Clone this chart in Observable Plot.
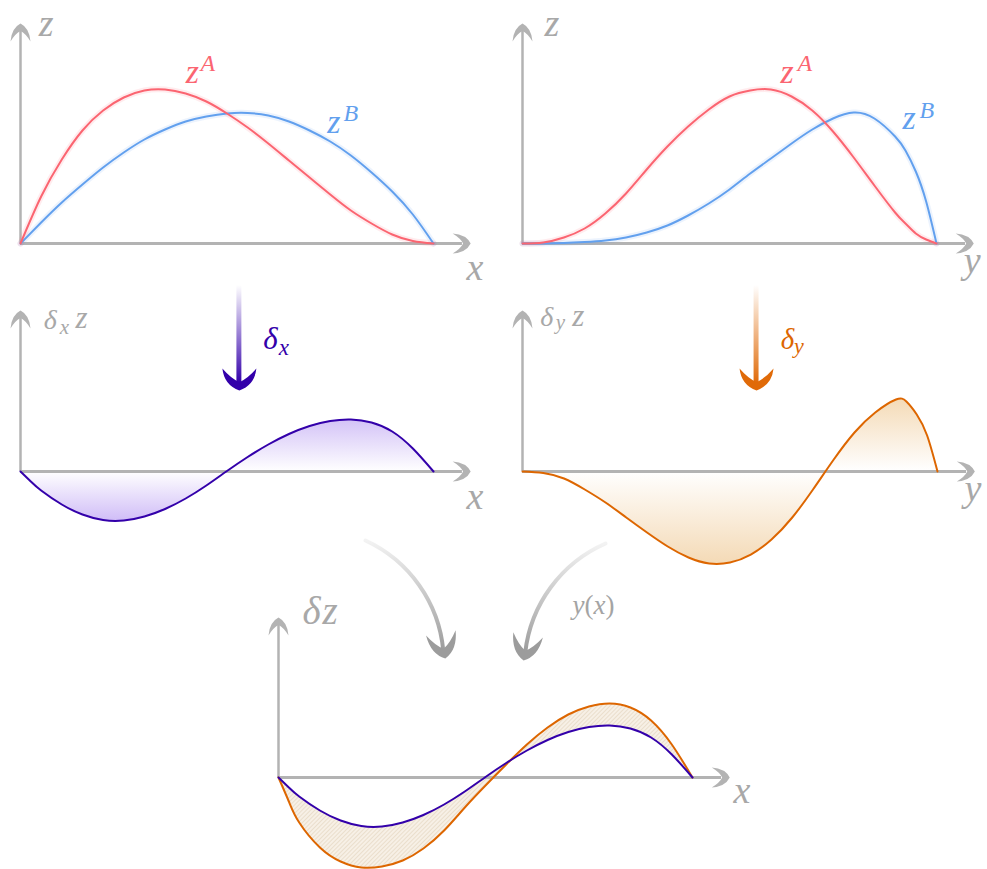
<!DOCTYPE html>
<html><head><meta charset="utf-8">
<script src="https://cdn.jsdelivr.net/npm/d3@7"></script>
<script src="https://cdn.jsdelivr.net/npm/@observablehq/plot@0.6"></script>
<style>
html,body{margin:0;padding:0;background:#fff;overflow:hidden}
#chart{position:relative;width:987px;height:869px;background:#fff}
#chart svg{position:absolute;left:0;top:0}
</style></head><body><div id="chart"></div>
<script>
// ---------- data ----------
// top-left panel: z^A(x), z^B(x)
const tTop = [0,.05,.1,.15,.2,.25,.3,.35,.4,.45,.5,.55,.6,.65,.7,.75,.8,.85,.9,.95,1];
const zA_x = [0,47,84,113,133,146,153,154,150,142,130,116,100,83,66,49,33,20,9,2.5,0];
const zB_x = [0,21,41,59,76,91,104,114,122,127,130,130.5,128,122,113,102,88,71,52,29,0];
// top-right panel: z^A(y), z^B(y)
const tFine = [0,.05,.1,.15,.2,.25,.3,.35,.4,.45,.5,.55,.6,.65,.7,.75,.8,.85,.9,.925,.95,.975,1];
const zA_y = [0,1,6,15,30,50,74,97,117,134,147,153,154,147,133,112,86,58,31,20,10,4,0];
const zB_y = [0,0,0.5,1.5,3,6,11,18,28,40,54,70,85,100,114,125,131,125,107,93,72,42,0];
// middle-right: δ_y z
const dyz = [0,-1.5,-7,-18,-31,-46,-61,-75,-86,-92,-91,-83,-68,-46,-18,12,39,59,72,70,57,36,0];
// middle-left and bottom: δ_x z, and δ_y z composed with y(x)
const tBot = [0,.025,.05,.1,.15,.2,.25,.3,.35,.4,.45,.5,.55,.6,.65,.7,.75,.8,.85,.9,.95,1];
const dxz = [0,-10,-19,-33,-43,-48.5,-49,-45,-37.5,-27,-14,0.5,14.5,27,37.5,45.5,50.5,52,49,40,23,0];
const dyz_x = [0,-24,-45,-70,-84,-90,-89,-83,-71,-53,-30,-8,13,33,50,63,71,74,70,57,33,0];

// ---------- tables ----------
const rowsTL = tTop.map((t,i)=>({t, a: zA_x[i], b: zB_x[i]}));
const rowsTR = tFine.map((t,i)=>({t, a: zA_y[i], b: zB_y[i], d: dyz[i]}));
const rowsB  = tBot.map((t,i)=>({t, dx: dxz[i], dy: dyz_x[i]}));

// ---------- style ----------
const W = 987, H = 869;
const AX = "#b3b3b3", LBL = "#a8a8a8";
const RED = "#fb6571", BLUE = "#62a0ee", PURPLE = "#3300aa", ORANGE = "#dd6600";
const FONT = "Liberation Serif";
const NS = "http://www.w3.org/2000/svg";

function head(L, hw, notch) {
  return {draw(ctx) {
    ctx.moveTo(-L, -hw);
    ctx.quadraticCurveTo(-0.25*L, -0.9*hw, 0, 0);
    ctx.quadraticCurveTo(-0.25*L, 0.9*hw, -L, hw);
    ctx.quadraticCurveTo(-0.55*L, 0.5*hw, -notch*L, 0);
    ctx.quadraticCurveTo(-0.55*L, -0.5*hw, -L, -hw);
    ctx.closePath();
  }};
}
const axisHead = head(18, 10, 0.42);
const bigHead = head(22, 17, 0.38);
const grayHead = head(26, 15, 0.38);

function label(str, x, y, fs, fill, extra = {}) {
  return Plot.text([str], {x: () => x, y: () => y, text: d => d, fontSize: fs, fontFamily: FONT,
    fontStyle: "italic", fill, textAnchor: "start", lineAnchor: "middle", dy: -0.32*fs, ...extra});
}
function axes(yTop) {
  return [
    Plot.ruleY([0], {x1: () => 0, x2: () => 1.07, stroke: AX, strokeWidth: 3}),
    Plot.ruleX([0], {y1: () => 0, y2: () => yTop - 8, stroke: AX, strokeWidth: 2.5}),
    Plot.dot([0], {x: () => 1.09, y: () => 0, symbol: axisHead, r: 6, fill: AX}),
    Plot.dot([0], {x: () => 0, y: () => yTop, symbol: axisHead, r: 6, fill: AX, rotate: -90})
  ];
}
const chart = document.getElementById("chart");
function serifify(svg) {
  svg.querySelectorAll("text, tspan, g").forEach(t => {
    t.setAttribute("font-family", FONT);
    t.style.setProperty("font-family", "'Liberation Serif', 'Times New Roman', serif", "important");
  });
}
function panel(xr, base, marks, defs) {
  const svg = Plot.plot({
    width: W, height: H,
    x: {domain: [0, 1], range: xr, axis: null},
    y: {domain: [0, 100], range: [base, base - 100], axis: null},
    style: {background: "transparent", overflow: "visible"},
    marks
  });
  if (defs) {
    const d = document.createElementNS(NS, "defs");
    d.innerHTML = defs;
    svg.insertBefore(d, svg.firstChild);
  }
  svg.setAttribute("font-family", FONT);
  svg.style.setProperty("font-family", "'Liberation Serif', serif", "important");
  svg.querySelectorAll("text").forEach(t => {
    t.style.setProperty("font-style", "italic", "important");
    if (t.textContent === "y(x)") {
      t.textContent = "";
      for (const s of ["y", "(", "x", ")"]) {
        const sp = document.createElementNS(NS, "tspan");
        sp.textContent = s;
        sp.style.setProperty("font-style", (s === "(" || s === ")") ? "normal" : "italic", "important");
        t.appendChild(sp);
      }
    }
  });
  serifify(svg);
  chart.appendChild(svg);
}
const curve = "natural";

// ---------- top-left ----------
panel([20, 433], 243, [
  ...axes(220),
  Plot.line(rowsTL, {x: "t", y: "b", curve, stroke: BLUE, strokeWidth: 6, strokeOpacity: 0.12}),
  Plot.line(rowsTL, {x: "t", y: "a", curve, stroke: RED, strokeWidth: 6, strokeOpacity: 0.12}),
  Plot.line(rowsTL, {x: "t", y: "b", curve, stroke: BLUE, strokeWidth: 2}),
  Plot.line(rowsTL, {x: "t", y: "a", curve, stroke: RED, strokeWidth: 2}),
  label("z", 0.044, 208, 38, LBL),
  label("x", 1.08, -36, 38, LBL),
  label("z", 0.40, 161, 34, RED), label("A", 0.436, 173, 24, RED),
  label("z", 0.743, 111, 34, BLUE), label("B", 0.782, 123, 24, BLUE)
]);

// ---------- top-right ----------
panel([522, 936], 243, [
  ...axes(220),
  Plot.line(rowsTR, {x: "t", y: "b", curve, stroke: BLUE, strokeWidth: 6, strokeOpacity: 0.12}),
  Plot.line(rowsTR, {x: "t", y: "a", curve, stroke: RED, strokeWidth: 6, strokeOpacity: 0.12}),
  Plot.line(rowsTR, {x: "t", y: "b", curve, stroke: BLUE, strokeWidth: 2}),
  Plot.line(rowsTR, {x: "t", y: "a", curve, stroke: RED, strokeWidth: 2}),
  label("z", 0.053, 208, 38, LBL),
  label("y", 1.066, -29, 38, LBL),
  label("z", 0.623, 161, 34, RED), label("A", 0.664, 173, 24, RED),
  label("z", 0.918, 115, 34, BLUE), label("B", 0.959, 126, 24, BLUE)
]);

// ---------- middle-left ----------
panel([20, 433], 471, [
  Plot.areaY(rowsB, {x: "t", y1: () => 0, y2: "dx", curve, fill: "url(#gradX)"}),
  ...axes(161),
  Plot.line(rowsB, {x: "t", y: "dx", curve, stroke: PURPLE, strokeWidth: 2}),
  label("δ", 0.056, 143, 28, LBL), label("x", 0.095, 138, 21, LBL), label("z", 0.133, 144, 31, LBL),
  label("x", 1.08, -37, 38, LBL),
  Plot.rect([0], {x1: () => 0.524, x2: () => 0.536, y1: () => 88, y2: () => 186, fill: "url(#shaftX)"}),
  Plot.dot([0], {x: () => 0.530, y: () => 81, symbol: bigHead, r: 8, fill: PURPLE, rotate: 90}),
  label("δ", 0.588, 123, 31, PURPLE), label("x", 0.625, 117, 23, PURPLE)
], `<linearGradient id="gradX" x1="0" y1="0" x2="0" y2="1">
  <stop offset="0" stop-color="#d3c2f7"/><stop offset="0.515" stop-color="#ffffff"/><stop offset="1" stop-color="#d0bdf7"/></linearGradient>
  <linearGradient id="shaftX" x1="0" y1="0" x2="0" y2="1">
  <stop offset="0" stop-color="${PURPLE}" stop-opacity="0"/><stop offset="1" stop-color="${PURPLE}" stop-opacity="1"/></linearGradient>`);

// ---------- middle-right ----------
panel([522, 937], 471, [
  Plot.areaY(rowsTR, {x: "t", y1: () => 0, y2: "d", curve, fill: "url(#gradY)"}),
  ...axes(161),
  Plot.line(rowsTR, {x: "t", y: "d", curve, stroke: ORANGE, strokeWidth: 2}),
  label("δ", 0.043, 146, 28, LBL), label("y", 0.08, 143, 21, LBL), label("z", 0.12, 146, 31, LBL),
  label("y", 1.065, -29, 38, LBL),
  Plot.rect([0], {x1: () => 0.558, x2: () => 0.570, y1: () => 88, y2: () => 186, fill: "url(#shaftY)"}),
  Plot.dot([0], {x: () => 0.564, y: () => 81, symbol: bigHead, r: 8, fill: "#e06a08", rotate: 90}),
  label("δ", 0.622, 123, 29, ORANGE), label("y", 0.654, 119, 22, ORANGE)
], `<linearGradient id="gradY" x1="0" y1="0" x2="0" y2="1">
  <stop offset="0" stop-color="#f4dab6"/><stop offset="0.44" stop-color="#ffffff"/><stop offset="1" stop-color="#f4dab6"/></linearGradient>
  <linearGradient id="shaftY" x1="0" y1="0" x2="0" y2="1">
  <stop offset="0" stop-color="#e06a08" stop-opacity="0"/><stop offset="1" stop-color="#e06a08" stop-opacity="1"/></linearGradient>`);

// ---------- bottom ----------
panel([278, 692], 777, [
  Plot.arrow([0], {x1: () => 0.21, y1: () => 237, x2: () => 0.398, y2: () => 127, bend: 30, headLength: 0,
    stroke: "url(#grayGrad)", strokeWidth: 4}),
  Plot.dot([0], {x: () => 0.403, y: () => 119, symbol: grayHead, r: 8, fill: "#9c9c9c", rotate: 80}),
  Plot.arrow([0], {x1: () => 0.79, y1: () => 234, x2: () => 0.596, y2: () => 125, bend: -30, headLength: 0,
    stroke: "url(#grayGrad)", strokeWidth: 4}),
  Plot.dot([0], {x: () => 0.592, y: () => 117, symbol: grayHead, r: 8, fill: "#9c9c9c", rotate: 100}),
  label("y(x)", 0.71, 164, 27, "#a4a4a4"),
  Plot.areaY(rowsB, {x: "t", y1: "dy", y2: "dx", curve, fill: "url(#hatch)"}),
  ...axes(160),
  Plot.line(rowsB, {x: "t", y: "dy", curve, stroke: ORANGE, strokeWidth: 2}),
  Plot.line(rowsB, {x: "t", y: "dx", curve, stroke: PURPLE, strokeWidth: 2}),
  label("δ", 0.058, 154, 39, LBL), label("z", 0.106, 154, 39, LBL),
  label("x", 1.099, -25, 38, LBL)
], `<linearGradient id="grayGrad" x1="0" y1="0" x2="0" y2="1">
  <stop offset="0" stop-color="#f3f3f3"/><stop offset="1" stop-color="#9c9c9c"/></linearGradient>
  <pattern id="hatch" patternUnits="userSpaceOnUse" width="3" height="3" patternTransform="rotate(45)">
  <rect width="3" height="3" fill="#f7f0e6"/><line x1="0" y1="0" x2="0" y2="3" stroke="#e2d2bb" stroke-width="1.2"/></pattern>`);
</script></body></html>
